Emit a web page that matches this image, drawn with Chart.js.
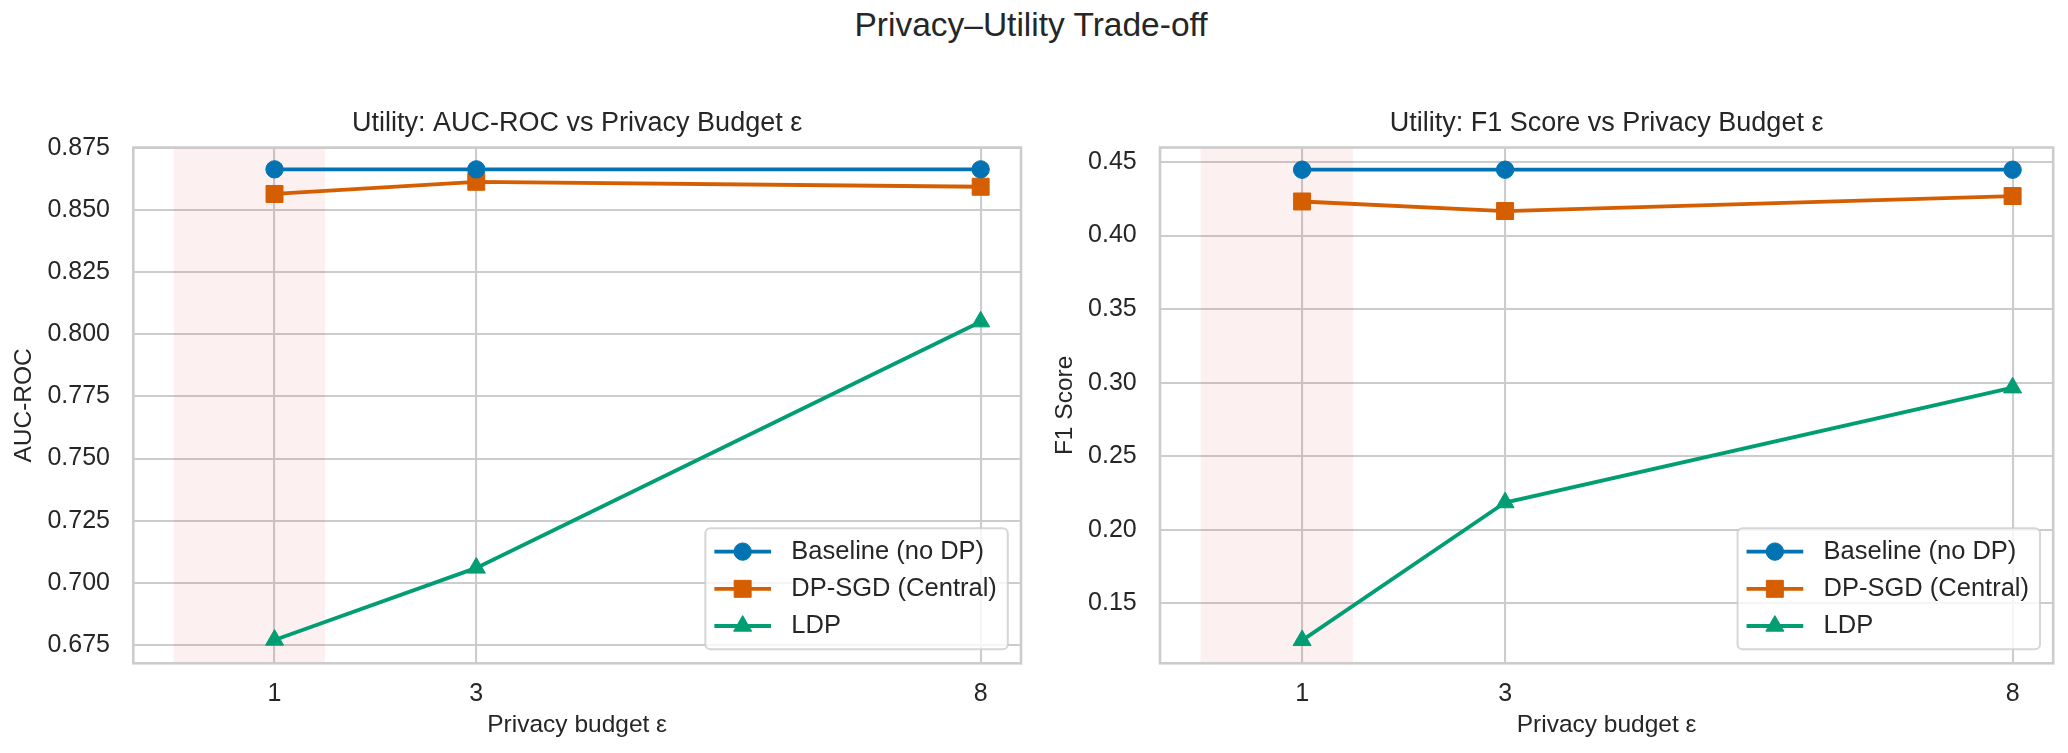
<!DOCTYPE html>
<html>
<head>
<meta charset="utf-8">
<script src="https://cdn.jsdelivr.net/npm/chart.js@4.4.1/dist/chart.umd.min.js"></script>
<style>
  body { margin: 0; background: #fff; width: 2068px; height: 753px; overflow: hidden; position: relative; font-family: "Liberation Sans", Arial, sans-serif; }
  #suptitle { position: absolute; left: -3px; top: 8px; width: 2068px; text-align: center; font-size: 33.5px; line-height: 33.5px; color: #262626; }
  canvas { position: absolute; top: 0; }
  #aucChart { left: 0; }
  #f1Chart { left: 1034px; }
</style>
</head>
<body>
<div id="suptitle">Privacy–Utility Trade-off</div>
<canvas id="aucChart" width="1034" height="753"></canvas>
<canvas id="f1Chart" width="1034" height="753"></canvas>
<script>
// privacy budgets on the x axis
const epsilons = [1, 3, 8];
const xTicks = [1, 3, 8];
const seriesNames = ['Baseline (no DP)', 'DP-SGD (Central)', 'LDP'];

// AUC-ROC panel
const aucBaseline = [0.8664, 0.8664, 0.8664];
const aucDpSgd = [0.8565, 0.8614, 0.8594];
const aucLdp = [0.677, 0.706, 0.8051];
const aucTicks = [0.675, 0.700, 0.725, 0.750, 0.775, 0.800, 0.825, 0.850, 0.875];

// F1 panel
const f1Baseline = [0.4448, 0.4448, 0.4448];
const f1DpSgd = [0.4232, 0.4167, 0.4269];
const f1Ldp = [0.1248, 0.2185, 0.2966];
const f1Ticks = [0.15, 0.20, 0.25, 0.30, 0.35, 0.40, 0.45];

// shaded "strong privacy" epsilon band
const strongPrivacyBand = [0, 1.5];

const colors = ['#0173b2', '#d55e00', '#029e73'];
const styles = ['circle', 'rect', 'triangle'];
const radii = [8.7, 12, 10.4];
const textColor = '#262626';
const fontFamily = '"Liberation Sans", Arial, sans-serif';

function drawMarker(ctx, style, r, x, y, color) {
    ctx.save();
    ctx.fillStyle = color;
    ctx.strokeStyle = color;
    ctx.lineWidth = 1;
    ctx.beginPath();
    if (style === 'circle') {
        ctx.arc(x, y, r, 0, Math.PI * 2);
    } else if (style === 'rect') {
        const s = r * Math.SQRT1_2;
        ctx.rect(x - s, y - s, 2 * s, 2 * s);
    } else {
        ctx.moveTo(x, y - r);
        ctx.lineTo(x + Math.sin(2 * Math.PI / 3) * r, y + r / 2);
        ctx.lineTo(x - Math.sin(2 * Math.PI / 3) * r, y + r / 2);
        ctx.closePath();
    }
    ctx.fill();
    ctx.stroke();
    ctx.restore();
}

// light red band + grey frame round the plot area
const bandPlugin = {
    id: 'band',
    beforeDatasetsDraw(chart) {
        const { ctx, chartArea: a, scales: { x } } = chart;
        const x0 = x.getPixelForValue(strongPrivacyBand[0]);
        const x1 = x.getPixelForValue(strongPrivacyBand[1]);
        ctx.save();
        ctx.fillStyle = 'rgba(230, 40, 40, 0.07)';
        ctx.fillRect(x0, a.top, x1 - x0, a.bottom - a.top);
        ctx.strokeStyle = '#cccccc';
        ctx.lineWidth = 2.6;
        ctx.strokeRect(a.left, a.top, a.right - a.left, a.bottom - a.top);
        ctx.restore();
    }
};

// matplotlib-like legend in the lower right corner
const legendPlugin = {
    id: 'boxLegend',
    afterDraw(chart) {
        const { ctx, chartArea: a } = chart;
        const sets = chart.data.datasets;
        ctx.save();
        ctx.font = '25.5px ' + fontFamily;
        const textW = Math.max(...sets.map(d => ctx.measureText(d.label).width));
        const w = 86 + textW + 11;
        const rowH = 37.2;
        const h = 23.3 * 2 + rowH * (sets.length - 1);
        const right = a.right - 13.2;
        const bottom = a.bottom - 14;
        const left = right - w;
        const top = bottom - h;

        ctx.beginPath();
        ctx.roundRect(left, top, w, h, 5);
        ctx.fillStyle = 'rgba(255,255,255,0.8)';
        ctx.fill();
        ctx.strokeStyle = 'rgba(204,204,204,0.8)';
        ctx.lineWidth = 2;
        ctx.stroke();

        sets.forEach((d, i) => {
            const y = top + 23.3 + i * rowH;
            ctx.beginPath();
            ctx.moveTo(left + 9, y);
            ctx.lineTo(left + 65.7, y);
            ctx.strokeStyle = d.borderColor;
            ctx.lineWidth = d.borderWidth;
            ctx.stroke();
            drawMarker(ctx, d.pointStyle, d.pointRadius, left + 37.3, y, d.borderColor);
            ctx.fillStyle = textColor;
            ctx.textBaseline = 'middle';
            ctx.textAlign = 'left';
            ctx.fillText(d.label, left + 86, y);
        });
        ctx.restore();
    }
};

function series(i, values) {
    return {
        label: seriesNames[i],
        data: epsilons.map((e, k) => ({ x: e, y: values[k] })),
        borderColor: colors[i],
        backgroundColor: colors[i],
        pointBackgroundColor: colors[i],
        pointBorderColor: colors[i],
        pointBorderWidth: 1,
        borderWidth: 3.8,
        pointStyle: styles[i],
        pointRadius: radii[i],
        tension: 0
    };
}

function makeChart(id, cfg) {
    return new Chart(document.getElementById(id), {
        type: 'line',
        data: {
            datasets: [
                series(0, cfg.baseline),
                series(1, cfg.dpsgd),
                series(2, cfg.ldp)
            ]
        },
        options: {
            responsive: false,
            animation: false,
            devicePixelRatio: 1,
            layout: { padding: { left: cfg.padLeft, right: cfg.padRight, top: 107.8, bottom: 0 } },
            plugins: {
                legend: { display: false },
                tooltip: { enabled: false },
                title: {
                    display: true,
                    text: cfg.title,
                    fullSize: false,
                    color: textColor,
                    font: { family: fontFamily, size: 27, weight: 'normal' },
                    padding: { top: 0, bottom: 7.3 }
                }
            },
            scales: {
                x: {
                    type: 'linear',
                    min: -0.4,
                    max: 8.4,
                    afterBuildTicks: s => { s.ticks = xTicks.map(v => ({ value: v })); },
                    afterFit: s => { s.height = 89.7; },
                    grid: { color: '#cccccc', lineWidth: 2.1, drawTicks: false },
                    border: { display: false },
                    ticks: {
                        padding: 15.8,
                        color: textColor,
                        font: { family: fontFamily, size: 25 },
                        callback: v => String(v)
                    },
                    title: {
                        display: true,
                        text: 'Privacy budget ε',
                        color: textColor,
                        font: { family: fontFamily, size: 24.5 },
                        padding: { top: 0, bottom: 12.8 }
                    }
                },
                y: {
                    min: cfg.yMin,
                    max: cfg.yMax,
                    afterBuildTicks: s => { s.ticks = cfg.ticks.map(v => ({ value: v })); },
                    afterFit: s => { s.width = cfg.yWidth; },
                    grid: { color: '#cccccc', lineWidth: 2.1, drawTicks: false },
                    border: { display: false },
                    ticks: {
                        padding: 23.3,
                        color: textColor,
                        font: { family: fontFamily, size: 25 },
                        callback: v => v.toFixed(cfg.decimals)
                    },
                    title: {
                        display: true,
                        text: cfg.yLabel,
                        color: textColor,
                        font: { family: fontFamily, size: 24.5 },
                        padding: { top: 9.3, bottom: 0 }
                    }
                }
            }
        },
        plugins: [bandPlugin, legendPlugin]
    });
}

makeChart('aucChart', {
    title: 'Utility: AUC-ROC vs Privacy Budget ε',
    yLabel: 'AUC-ROC',
    baseline: aucBaseline,
    dpsgd: aucDpSgd,
    ldp: aucLdp,
    ticks: aucTicks,
    decimals: 3,
    yMin: 0.6676,
    yMax: 0.8752,
    padLeft: 0,
    padRight: 7.5,
    yWidth: 133.3
});

makeChart('f1Chart', {
    title: 'Utility: F1 Score vs Privacy Budget ε',
    yLabel: 'F1 Score',
    baseline: f1Baseline,
    dpsgd: f1DpSgd,
    ldp: f1Ldp,
    ticks: f1Ticks,
    decimals: 2,
    yMin: 0.1092,
    yMax: 0.4599,
    padLeft: 7.3,
    padRight: 14.8,
    yWidth: 118.7
});
</script>
</body>
</html>
